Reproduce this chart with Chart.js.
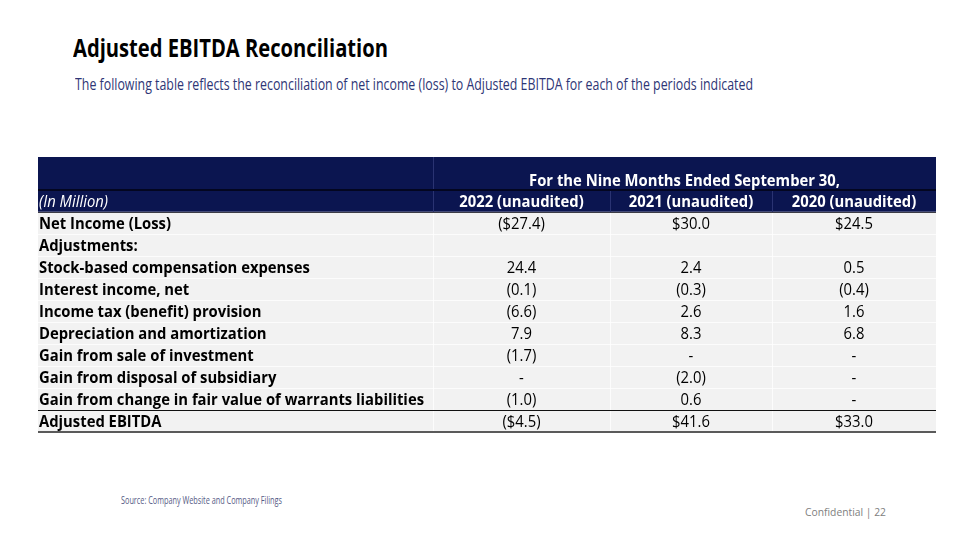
<!DOCTYPE html>
<html>
<head>
<meta charset="utf-8">
<script src="https://cdn.jsdelivr.net/npm/chart.js@4.4.1/dist/chart.umd.min.js"></script>
<style>
  html, body { margin: 0; padding: 0; background: #ffffff; }
  body { width: 960px; height: 540px; position: relative; overflow: hidden; font-family: "Open Sans", sans-serif; }
  .txt { position: absolute; white-space: nowrap; transform-origin: 0 0; }
  #title { left: 73px; top: 30px; font-size: 25px; font-weight: 700; color: #000; }
  #subtitle { left: 75px; top: 72px; font-size: 17px; font-weight: 400; color: #2e3676; }
  #source { left: 121px; top: 493px; font-size: 10px; color: #555a85; }
  #conf { left: 805px; top: 504px; font-size: 11px; color: #808080; }
  #c { position: absolute; left: 0; top: 0; }
</style>
</head>
<body>
<div id="title" class="txt">Adjusted EBITDA Reconciliation</div>
<div id="subtitle" class="txt">The following table reflects the reconciliation of net income (loss) to Adjusted EBITDA for each of the periods indicated</div>
<div id="source" class="txt">Source: Company Website and Company Filings</div>
<div id="conf" class="txt">Confidential | 22</div>
<canvas id="c" width="960" height="540"></canvas>
<script>
// ---- data ----
const groupHeader = "For the Nine Months Ended September 30,";
const unitLabel = "(In Million)";
const periods = ["2022 (unaudited)", "2021 (unaudited)", "2020 (unaudited)"];
const rowLabels = [
  "Net Income (Loss)",
  "Adjustments:",
  "Stock-based compensation expenses",
  "Interest income, net",
  "Income tax (benefit) provision",
  "Depreciation and amortization",
  "Gain from sale of investment",
  "Gain from disposal of subsidiary",
  "Gain from change in fair value of warrants liabilities",
  "Adjusted EBITDA"
];
const values2022 = [-27.4, null, 24.4, -0.1, -6.6, 7.9, -1.7, 0, -1.0, -4.5];
const values2021 = [30.0, null, 2.4, -0.3, 2.6, 8.3, 0, -2.0, 0.6, 41.6];
const values2020 = [24.5, null, 0.5, -0.4, 1.6, 6.8, 0, 0, 0, 33.0];
const currencyRows = [0, 9];

// ---- layout / style config ----
const tableWidth = 898;
const colEdges = [0, 395, 572, 734, 898];
const NAVY = "#0b1550";
const BODY = "#f2f2f2";

function fit(id, w) {
  const el = document.getElementById(id);
  const r = el.getBoundingClientRect().width;
  el.style.transform = "scaleX(" + (w / r) + ")";
}
fit("title", 315);
fit("subtitle", 678);
fit("source", 161);
fit("conf", 81);

function fmt(v, row) {
  if (v === null || v === undefined) return "";
  if (v === 0) return "-";
  const cur = currencyRows.includes(row) ? "$" : "";
  const s = cur + Math.abs(v).toFixed(1);
  return v < 0 ? "(" + s + ")" : s;
}

const series = [values2022, values2021, values2020];

const tablePlugin = {
  id: "tablePlugin",
  beforeDatasetsDraw(chart) {
    const ctx = chart.ctx, x = chart.scales.x, y = chart.scales.y;
    ctx.save();
    ctx.fillStyle = NAVY;
    const x0 = x.getPixelForValue(0), x1 = x.getPixelForValue(tableWidth);
    ctx.fillRect(x0, y.getPixelForValue(-2.5), x1 - x0, y.getPixelForValue(0) - y.getPixelForValue(-2.5));
    ctx.restore();
  },
  afterDatasetsDraw(chart) {
    const ctx = chart.ctx, x = chart.scales.x, y = chart.scales.y;
    const x0 = x.getPixelForValue(0), x1 = x.getPixelForValue(tableWidth);
    ctx.save();
    const fontB = 'bold 16px "Open Sans"';
    const fontR = '16px "Open Sans"';
    const fontI = 'italic 16px "Open Sans"';
    ctx.font = fontB;
    const k = 385 / ctx.measureText(rowLabels[8]).width;

    function hline(v, color, w) {
      ctx.strokeStyle = color; ctx.lineWidth = w;
      const py = Math.round(y.getPixelForValue(v)) + (w % 2 ? 0.5 : 0);
      ctx.beginPath(); ctx.moveTo(x0, py); ctx.lineTo(x1, py); ctx.stroke();
    }
    function vline(v, a, b, color) {
      ctx.strokeStyle = color; ctx.lineWidth = 1;
      const px = Math.round(x.getPixelForValue(v)) + 0.5;
      ctx.beginPath(); ctx.moveTo(px, y.getPixelForValue(a)); ctx.lineTo(px, y.getPixelForValue(b)); ctx.stroke();
    }
    for (let i = 1; i < 10; i++) hline(i, "rgba(255,255,255,0.75)", 1);
    for (let c = 1; c < 4; c++) vline(colEdges[c], 0, 10, "rgba(255,255,255,0.75)");
    vline(colEdges[1], -2.5, 0, "#2a3372");
    vline(colEdges[2], -1, 0, "#2a3372");
    vline(colEdges[3], -1, 0, "#2a3372");
    hline(-1, "#030620", 2);
    hline(0, "#3c3c46", 1);
    hline(9, "#111111", 1);
    hline(10, "#5a5a5a", 2);

    function text(str, px, py, font, color, align) {
      ctx.font = font;
      ctx.fillStyle = color;
      ctx.textBaseline = "alphabetic";
      const w = ctx.measureText(str).width * k;
      let sx = px;
      if (align === "center") sx = px - w / 2;
      else if (align === "right") sx = px - w;
      ctx.save();
      ctx.translate(sx, py);
      ctx.scale(k, 1);
      ctx.textAlign = "left";
      ctx.fillText(str, 0, 0);
      ctx.restore();
    }
    const gx = x.getPixelForValue((colEdges[1] + colEdges[4]) / 2);
    text(groupHeader, gx, y.getPixelForValue(-1) - 4, fontB, "#ffffff", "center");
    const base2 = y.getPixelForValue(-0.5) + 6;
    text(unitLabel, x.getPixelForValue(1), base2, fontI, "#ffffff", "left");
    periods.forEach((p, c) => {
      const cx = x.getPixelForValue((colEdges[c + 1] + colEdges[c + 2]) / 2);
      text(p, cx, base2, fontB, "#ffffff", "center");
    });
    rowLabels.forEach((lab, i) => {
      const by = y.getPixelForValue(i + 0.5) + 6;
      text(lab, x.getPixelForValue(1), by, fontB, "#000000", "left");
      series.forEach((s, c) => {
        const cx = x.getPixelForValue((colEdges[c + 1] + colEdges[c + 2]) / 2);
        text(fmt(s[i], i), cx, by, fontR, "#000000", "center");
      });
    });
    ctx.restore();
  }
};

new Chart(document.getElementById("c"), {
  type: "bar",
  data: {
    datasets: [{
      data: rowLabels.map((_, i) => ({ y: i + 0.5, x: [0, tableWidth] })),
      backgroundColor: BODY,
      borderWidth: 0,
      categoryPercentage: 1,
      barPercentage: 1
    }]
  },
  options: {
    indexAxis: "y",
    responsive: false,
    devicePixelRatio: 1,
    animation: false,
    events: [],
    layout: { padding: { left: 38, right: 24, top: 157, bottom: 108 } },
    scales: {
      x: { type: "linear", min: 0, max: tableWidth, offset: false, display: false },
      y: { type: "linear", reverse: true, min: -2.5, max: 10, offset: false, display: false }
    },
    plugins: { legend: { display: false }, tooltip: { enabled: false } }
  },
  plugins: [tablePlugin]
});
</script>
</body>
</html>
